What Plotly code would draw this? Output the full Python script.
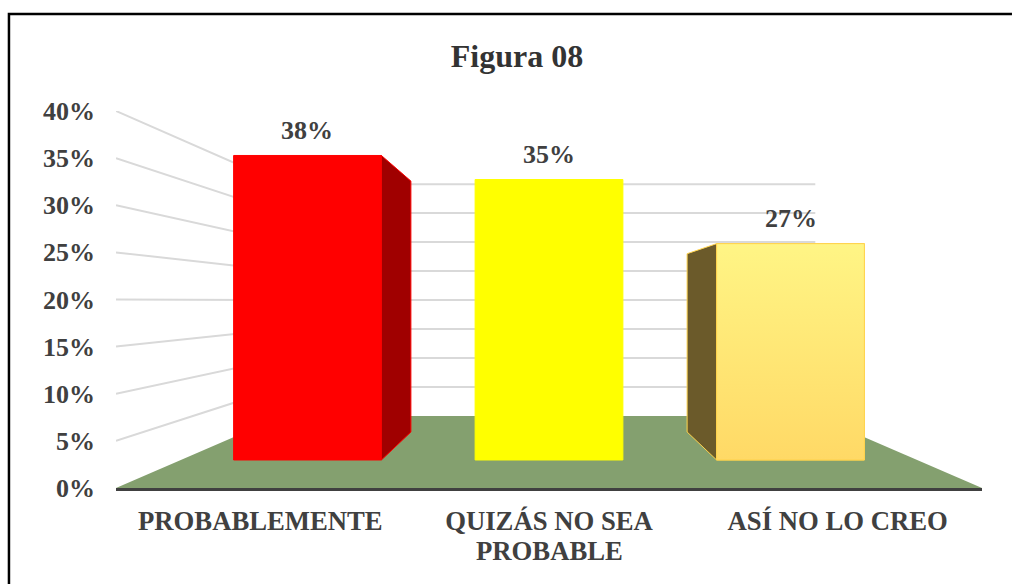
import plotly.graph_objects as go

categories = ["PROBABLEMENTE", "QUIZÁS NO SEA", "ASÍ NO LO CREO"]
category_second_lines = ["", "PROBABLE", ""]
values = [38, 35, 27]
value_labels = ["38%", "35%", "27%"]
y_ticks = [0, 5, 10, 15, 20, 25, 30, 35, 40]
y_tick_labels = ["0%", "5%", "10%", "15%", "20%", "25%", "30%", "35%", "40%"]

bar_colors = ["#FF0000", "#FFFF00", "#FFE26F"]
bar_edges = ["#FF0000", "#FFFF00", "#FFD34D"]
side_colors = ["#A00000", None, "#6B5A2A"]

FONT = "Liberation Serif"
TEXT = "#404040"
WIDTH, HEIGHT = 1012, 584
LEFT, RIGHT, TOP, BOTTOM = 116, 30, 111, 96

# fake perspective of the 3d chart: depth 0 is the front edge of the floor, 1 the back wall
BACK_SCALE = 0.615
FLOOR_RISE = 7.64
BAR_FRONT, BAR_BACK = 0.389, 0.778
BAR_SPREAD = 0.984
BAR_WIDTH = 0.602


def scale(depth):
    return 1 - (1 - BACK_SCALE) * depth


def project(x, y, depth):
    return 1 + (x - 1) * scale(depth), y * scale(depth) + FLOOR_RISE * depth


def path(points, close=True):
    text = "M " + " L ".join(f"{x:.4f},{y:.4f}" for x, y in points)
    return text + " Z" if close else text


def bar_center(i):
    return 1 + (i - 1) * BAR_SPREAD


fig = go.Figure()

# floor and grid go in as shapes so that they stay under the bars
fig.add_shape(
    type="path",
    path=path([project(-0.5, 0, 0), project(-0.5, 0, 1), project(2.5, 0, 1), project(2.5, 0, 0)]),
    fillcolor="#84A06F",
    line_width=0,
    layer="below",
)
for tick in y_ticks[1:]:
    wall = [project(-0.5, tick, 0), project(-0.5, tick, 1), project(2.5, tick, 1)]
    fig.add_shape(
        type="path",
        path=path(wall, close=False),
        line=dict(color="#D9D9D9", width=2),
        layer="below",
    )

# side faces towards the middle of the chart, the centre bar has none visible
for i, value in enumerate(values):
    if side_colors[i] is None:
        continue
    edge = bar_center(i) + (BAR_WIDTH / 2 if i == 0 else -BAR_WIDTH / 2)
    face = [
        project(edge, 0, BAR_FRONT),
        project(edge, value, BAR_FRONT),
        project(edge, value, BAR_BACK),
        project(edge, 0, BAR_BACK),
        project(edge, 0, BAR_FRONT),
    ]
    fig.add_trace(go.Scatter(
        x=[p[0] for p in face],
        y=[p[1] for p in face],
        mode="lines",
        fill="toself",
        fillcolor=side_colors[i],
        line=dict(color=bar_edges[i], width=1),
        hoverinfo="skip",
        showlegend=False,
    ))

fig.add_trace(go.Bar(
    x=[project(bar_center(i), 0, BAR_FRONT)[0] for i in range(3)],
    y=[v * scale(BAR_FRONT) for v in values],
    base=FLOOR_RISE * BAR_FRONT,
    width=BAR_WIDTH * scale(BAR_FRONT),
    marker=dict(color=bar_colors, line=dict(color=bar_edges, width=1)),
    showlegend=False,
))

# third bar has a soft gradient, the bar trace cannot do that
x_mid = project(bar_center(2), 0, BAR_FRONT)[0]
half = BAR_WIDTH * scale(BAR_FRONT) / 2
y0 = FLOOR_RISE * BAR_FRONT
y1 = y0 + values[2] * scale(BAR_FRONT)
fig.add_trace(go.Scatter(
    x=[x_mid - half, x_mid + half, x_mid + half, x_mid - half, x_mid - half],
    y=[y0, y0, y1, y1, y0],
    mode="lines",
    fill="toself",
    fillgradient=dict(type="vertical", colorscale=[[0, "#FFD966"], [1, "#FFF585"]]),
    line=dict(color=bar_edges[2], width=1),
    hoverinfo="skip",
    showlegend=False,
))

for i, value in enumerate(values):
    fig.add_annotation(
        x=project(bar_center(i), 0, BAR_FRONT)[0],
        y=FLOOR_RISE * BAR_FRONT + value * scale(BAR_FRONT),
        text=value_labels[i],
        showarrow=False,
        yanchor="middle",
        yshift=25,
        font=dict(family=FONT, size=26, color=TEXT, weight="bold"),
    )

# tick labels get a fixed 1.3 line height, the original wraps tighter
for i, line in enumerate(category_second_lines):
    if line:
        fig.add_annotation(
            x=i,
            y=0,
            text=line,
            showarrow=False,
            yanchor="middle",
            yshift=-63,
            font=dict(family=FONT, size=26.7, color=TEXT, weight="bold"),
        )

# frame: only the top and left edges are inside the picture
plot_w = WIDTH - LEFT - RIGHT
plot_h = HEIGHT - TOP - BOTTOM
frame_left = (9 - LEFT) / plot_w
frame_top = (HEIGHT - BOTTOM - 14) / plot_h
fig.add_shape(
    type="path",
    xref="paper",
    yref="paper",
    path=path([(frame_left, -BOTTOM / plot_h), (frame_left, frame_top), ((WIDTH - LEFT) / plot_w, frame_top)], close=False),
    line=dict(color="#000000", width=2.5),
    layer="below",
)

fig.update_layout(
    width=WIDTH,
    height=HEIGHT,
    margin=dict(l=LEFT, r=RIGHT, t=TOP, b=BOTTOM),
    paper_bgcolor="white",
    plot_bgcolor="white",
    title=dict(
        text="Figura 08",
        x=517 / WIDTH,
        xanchor="center",
        y=1 - 56 / HEIGHT,
        yanchor="middle",
        font=dict(family=FONT, size=32, color="#333333", weight="bold"),
    ),
    xaxis=dict(
        range=[-0.5, 2.5],
        tickmode="array",
        tickvals=[0, 1, 2],
        ticktext=categories,
        showgrid=False,
        zeroline=False,
        showline=True,
        linecolor=TEXT,
        linewidth=3,
        ticks="",
        automargin=False,
        ticklabelstandoff=7,
        tickfont=dict(family=FONT, size=26.7, color=TEXT, weight="bold"),
    ),
    yaxis=dict(
        range=[0, 40],
        tickmode="array",
        tickvals=y_ticks,
        ticktext=y_tick_labels,
        showgrid=False,
        zeroline=False,
        showline=False,
        ticks="",
        automargin=False,
        ticklabelstandoff=20,
        tickfont=dict(family=FONT, size=26, color=TEXT, weight="bold"),
    ),
)

fig.write_html("out.html", config={"displayModeBar": False}, post_script="document.body.style.margin='0'")
